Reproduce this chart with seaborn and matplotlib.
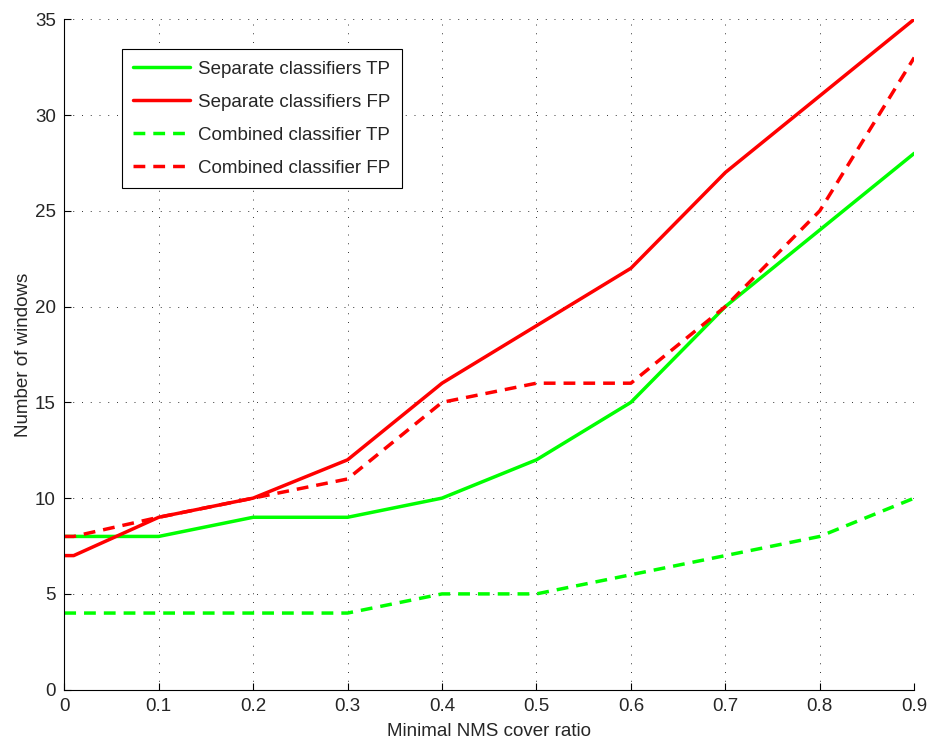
import matplotlib
matplotlib.use("Agg")
import matplotlib.pyplot as plt
import seaborn as sns
import pandas as pd

cover_ratio = [0.0, 0.01, 0.1, 0.2, 0.3, 0.4, 0.5, 0.6, 0.7, 0.8, 0.9]
separate_tp = [8, 8, 8, 9, 9, 10, 12, 15, 20, 24, 28]
separate_fp = [7, 7, 9, 10, 12, 16, 19, 22, 27, 31, 35]
combined_tp = [4, 4, 4, 4, 4, 5, 5, 6, 7, 8, 10]
combined_fp = [8, 8, 9, 10, 11, 15, 16, 16, 20, 25, 33]

series_names = ["Separate classifiers TP", "Separate classifiers FP",
                "Combined classifier TP", "Combined classifier FP"]
series_values = [separate_tp, separate_fp, combined_tp, combined_fp]
series_colors = ["#00ff00", "#ff0000", "#00ff00", "#ff0000"]
series_dashed = [False, False, True, True]

sns.set_theme(style="white")
plt.rcParams["font.family"] = ["Liberation Sans", "DejaVu Sans"]
plt.rcParams["xtick.direction"] = "in"
plt.rcParams["ytick.direction"] = "in"

FS = 13.5

fig, ax = plt.subplots(figsize=(9.31, 7.40), dpi=100)
fig.subplots_adjust(left=0.069, right=0.982, bottom=0.068, top=0.974)

for name, vals, col, dashed in zip(series_names, series_values, series_colors, series_dashed):
    df = pd.DataFrame({"ratio": cover_ratio, "count": vals})
    sns.lineplot(data=df, x="ratio", y="count", ax=ax, color=col,
                 linewidth=2.5, label=name)
    if dashed:
        ax.lines[-1].set_dashes((3.4, 2.3))

ax.set_xlim(0, 0.9)
ax.set_ylim(0, 35)
ax.set_xticks([i / 10 for i in range(10)])
ax.set_xticklabels(["0"] + [f"{i/10:.1f}" for i in range(1, 10)])
ax.set_yticks(range(0, 36, 5))
ax.tick_params(axis="both", labelsize=FS, length=5, width=0.8, color="black",
               top=False, right=False, bottom=True, left=True, pad=6)
ax.set_xlabel("Minimal NMS cover ratio", fontsize=FS, labelpad=6)
ax.set_ylabel("Number of windows", fontsize=FS, labelpad=2)

ax.grid(True, color="#333333", linestyle=(0, (1, 8)), linewidth=0.7)
for side in ["top", "right"]:
    ax.spines[side].set_visible(False)
for side in ["left", "bottom"]:
    ax.spines[side].set_color("black")
    ax.spines[side].set_linewidth(0.8)

leg = ax.legend(loc="upper left", bbox_to_anchor=(0.068, 0.955), fontsize=FS,
                frameon=True, fancybox=False, edgecolor="black", framealpha=1,
                handlelength=3.05, handletextpad=0.4, labelspacing=0.85,
                borderpad=0.6, borderaxespad=0)
leg.get_frame().set_linewidth(0.8)

fig.savefig("out.png", dpi=100, facecolor="white")
